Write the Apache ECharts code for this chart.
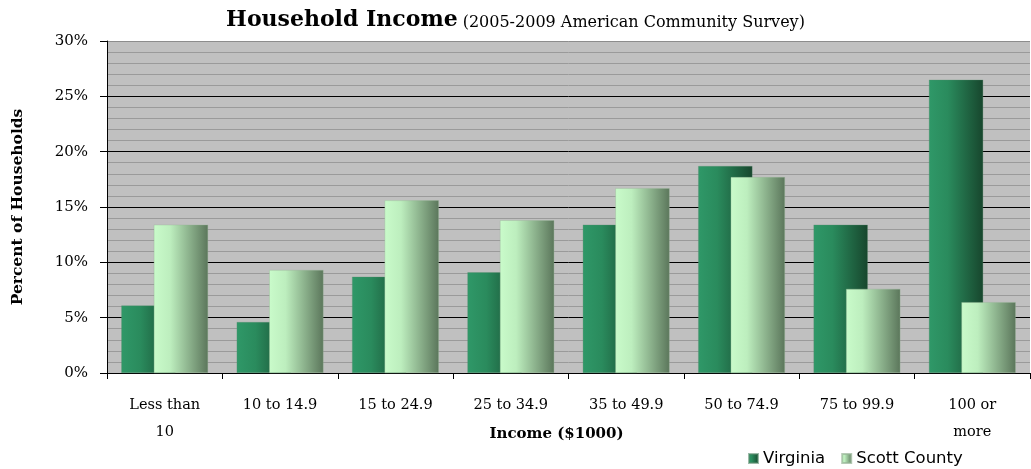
<!DOCTYPE html>
<html>
<head>
<meta charset="utf-8">
<script src="https://cdn.jsdelivr.net/npm/echarts@6/dist/echarts.min.js"></script>
<style>html,body{margin:0;padding:0;background:#fff}#c{width:1031px;height:469px}</style>
</head>
<body>
<div id="c"></div>
<script>
var categories = ['Less than\n10', '10 to 14.9', '15 to 24.9', '25 to 34.9', '35 to 49.9', '50 to 74.9', '75 to 99.9', '100 or\nmore'];
var virginia = [6.1, 4.6, 8.7, 9.1, 13.4, 18.7, 13.4, 26.5];
var scottCounty = [13.4, 9.3, 15.6, 13.8, 16.7, 17.7, 7.6, 6.4];
var seriesNames = ['Virginia', 'Scott County'];

var serif = 'DejaVu Serif';
var chart = echarts.init(document.getElementById('c'));
chart.setOption({
  animation: false,
  title: {
    left: 'center',
    top: -2,
    text: '{a|Household Income} {b|(2005-2009 American Community Survey)}',
    textStyle: {
      rich: {
        a: {fontFamily: serif, fontWeight: 'bold', fontSize: 22, color: '#000', verticalAlign: 'bottom', lineHeight: 28},
        b: {fontFamily: serif, fontWeight: 'normal', fontSize: 16, color: '#000', verticalAlign: 'bottom', lineHeight: 24}
      }
    }
  },
  legend: {
    left: 743,
    top: 445,
    itemWidth: 9,
    itemHeight: 9,
    itemGap: 16,
    icon: 'rect',
    textStyle: {fontFamily: 'DejaVu Sans', fontSize: 16.5, color: '#000', padding: [0, 0, 0, 0]},
    data: seriesNames
  },
  grid: {
    left: 107, right: 1, top: 41, bottom: 96,
    outerBoundsMode: 'none',
    containLabel: false,
    show: true, backgroundColor: '#c0c0c0', borderWidth: 0
  },
  xAxis: {
    type: 'category',
    data: categories,
    name: 'Income ($1000)',
    nameLocation: 'middle',
    nameGap: 54,
    nameMoveOverlap: false,
    nameTextStyle: {fontFamily: serif, fontWeight: 'bold', fontSize: 15, color: '#000', padding: [0, 24, 0, 0]},
    axisLine: {lineStyle: {color: '#000', width: 1}},
    axisTick: {show: true, length: 6, lineStyle: {color: '#000'}},
    axisLabel: {fontFamily: serif, fontSize: 14.5, color: '#000', margin: 19, lineHeight: 27, interval: 0}
  },
  yAxis: {
    type: 'value',
    min: 0, max: 30, interval: 5,
    name: 'Percent of Households',
    nameLocation: 'middle',
    nameRotate: 90,
    nameGap: 81,
    nameMoveOverlap: false,
    nameTextStyle: {fontFamily: serif, fontWeight: 'bold', fontSize: 15.5, color: '#000', padding: [0, 0, 0, 0]},
    axisLine: {show: true, lineStyle: {color: '#000', width: 1}},
    axisTick: {show: true, length: 7, lineStyle: {color: '#000'}},
    axisLabel: {fontFamily: serif, fontSize: 15, color: '#000', margin: 19, formatter: '{value}%'},
    splitLine: {show: true, lineStyle: {color: ['#000', '#000', '#000', '#000', '#000', '#000', '#8c8c8c'], width: 1}},
    minorTick: {show: false, splitNumber: 5},
    minorSplitLine: {show: true, lineStyle: {color: '#9a9a9a', width: 1}}
  },
  series: [
    {
      name: seriesNames[0],
      type: 'bar',
      data: virginia,
      barWidth: '47%',
      barGap: '-40%',
      itemStyle: {
        color: new echarts.graphic.LinearGradient(0, 0, 1, 0, [
          {offset: 0, color: '#2f9868'},
          {offset: 0.35, color: '#2a8b5d'},
          {offset: 1, color: '#17462d'}
        ]),
        borderColor: 'rgba(90,140,110,0.6)', borderWidth: 0.5
      }
    },
    {
      name: seriesNames[1],
      type: 'bar',
      data: scottCounty,
      barWidth: '47%',
      barGap: '-40%',
      itemStyle: {
        color: new echarts.graphic.LinearGradient(0, 0, 1, 0, [
          {offset: 0, color: '#c9fbca'},
          {offset: 0.3, color: '#bdeebe'},
          {offset: 1, color: '#5b765b'}
        ]),
        borderColor: 'rgba(150,180,150,0.7)', borderWidth: 0.5
      }
    }
  ]
});
</script>
</body>
</html>
